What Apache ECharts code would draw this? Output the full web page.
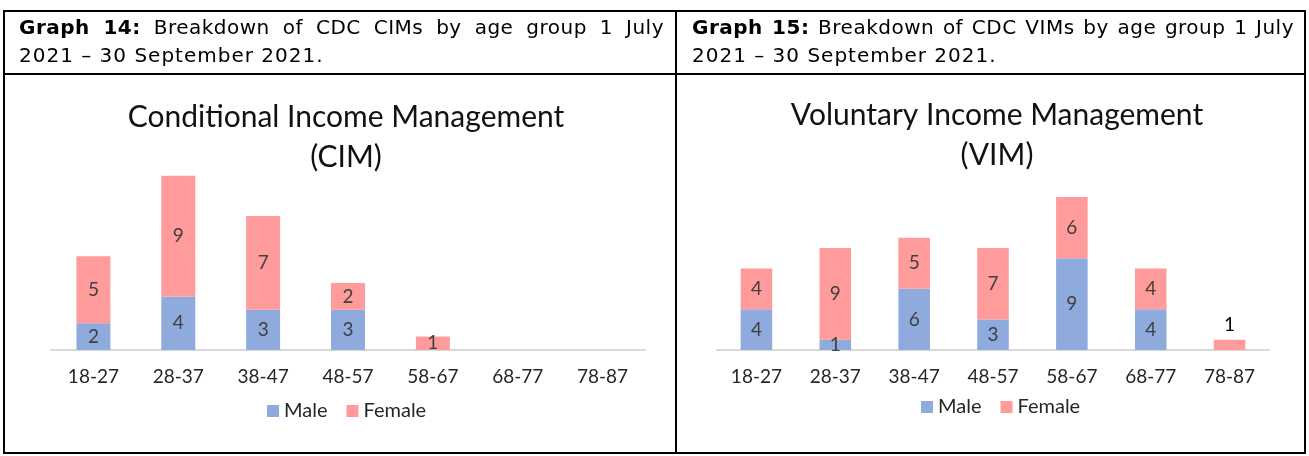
<!DOCTYPE html>
<html>
<head>
<meta charset="utf-8">
<script src="https://cdn.jsdelivr.net/npm/echarts@6/dist/echarts.min.js"></script>
<style>
  html, body { margin: 0; padding: 0; background: #fff; }
  #page { position: relative; width: 1309px; height: 456px; overflow: hidden; }
  #chart { position: absolute; left: 0; top: 0; width: 1309px; height: 456px; }
  .line { position: absolute; background: #000; }
  .head { position: absolute; font-family: "DejaVu Sans", Verdana, sans-serif; font-size: 20px;
          line-height: 28px; color: #000; letter-spacing: 1px; white-space: nowrap; }
  .just { text-align: justify; text-align-last: justify; white-space: normal; letter-spacing: 0.5px; }
</style>
</head>
<body>
<div id="page">
  <div id="chart"></div>
  <!-- table borders -->
  <div class="line" style="left:4px;top:10px;width:1302px;height:2px"></div>
  <div class="line" style="left:4px;top:73px;width:1302px;height:2px"></div>
  <div class="line" style="left:4px;top:452px;width:1302px;height:2px"></div>
  <div class="line" style="left:3px;top:10px;width:2px;height:444px"></div>
  <div class="line" style="left:675px;top:10px;width:2px;height:444px"></div>
  <div class="line" style="left:1304px;top:10px;width:2px;height:444px"></div>
  <!-- headers -->
  <div class="head just" style="left:19px;top:13px;width:645px"><b>Graph 14:</b> Breakdown of CDC CIMs by age group 1 July</div>
  <div class="head" style="left:19px;top:41px">2021 – 30 September 2021.</div>
  <div class="head just" style="left:692px;top:13px;width:602px"><b>Graph 15:</b> Breakdown of CDC VIMs by age group 1 July</div>
  <div class="head" style="left:692px;top:41px">2021 – 30 September 2021.</div>
</div>
<script>
const ages = ['18-27', '28-37', '38-47', '48-57', '58-67', '68-77', '78-87'];
const cimMale = [2, 4, 3, 3, 0, 0, 0];
const cimFemale = [5, 9, 7, 2, 1, 0, 0];
const vimMale = [4, 1, 6, 3, 9, 4, 0];
const vimFemale = [4, 9, 5, 7, 6, 4, 1];

const maleColor = '#8faadc';
const femaleColor = '#ff9b9b';
const font = 'Lato';

const chart = echarts.init(document.getElementById('chart'));

const valueLabel = {
	show: true,
	position: 'inside',
	color: '#404040',
	fontFamily: font,
	fontSize: 19,
	formatter: p => (p.value ? p.value : '')
};

const barSeries = (name, data, idx, color) => ({
	name: name,
	type: 'bar',
	stack: 'g' + idx,
	xAxisIndex: idx,
	yAxisIndex: idx,
	barCategoryGap: '60%',
	itemStyle: { color: color },
	label: valueLabel,
	data: data
});

const xAxis = (idx) => ({
	type: 'category',
	gridIndex: idx,
	data: ages,
	axisLine: { lineStyle: { color: '#d9d9d9', width: 2 } },
	axisTick: { show: false },
	axisLabel: { color: '#262626', fontFamily: font, fontSize: 19, margin: 17 }
});

const yAxis = (idx, max) => ({
	type: 'value',
	gridIndex: idx,
	min: 0,
	max: max,
	show: false
});

const legend = (left, top) => ({
	left: left,
	top: top,
	padding: 0,
	itemWidth: 12,
	itemHeight: 12,
	itemGap: 19,
	icon: 'rect',
	textStyle: { fontFamily: font, fontSize: 20, color: '#262626' },
	data: ['Male', 'Female']
});

// the lone 78-87 female label sits above its bar
const vimFemaleData = vimFemale.map((v, i) =>
	i === ages.length - 1 ? { value: v, label: { position: 'top', color: '#000' } } : v);

const option = {
	animation: false,
	title: [
		{
			text: 'Conditional Income Management\n(CIM)',
			left: 341, top: 92, textAlign: 'center',
			textStyle: { fontFamily: font, fontSize: 30, fontWeight: 'normal', color: '#111', lineHeight: 40 }
		},
		{
			text: 'Voluntary Income Management\n(VIM)',
			left: 992, top: 90, textAlign: 'center',
			textStyle: { fontFamily: font, fontSize: 30, fontWeight: 'normal', color: '#111', lineHeight: 40 }
		}
	],
	legend: [legend(267, 401), legend(921, 397)],
	grid: [
		{ left: 51, width: 594, top: 350 - 14 * 13.4, height: 14 * 13.4 },
		{ left: 717, width: 552, top: 350 - 16 * 10.2, height: 16 * 10.2 }
	],
	xAxis: [xAxis(0), xAxis(1)],
	yAxis: [yAxis(0, 14), yAxis(1, 16)],
	series: [
		barSeries('Male', cimMale, 0, maleColor),
		barSeries('Female', cimFemale, 0, femaleColor),
		barSeries('Male', vimMale, 1, maleColor),
		barSeries('Female', vimFemaleData, 1, femaleColor)
	]
};

chart.setOption(option);
</script>
</body>
</html>
